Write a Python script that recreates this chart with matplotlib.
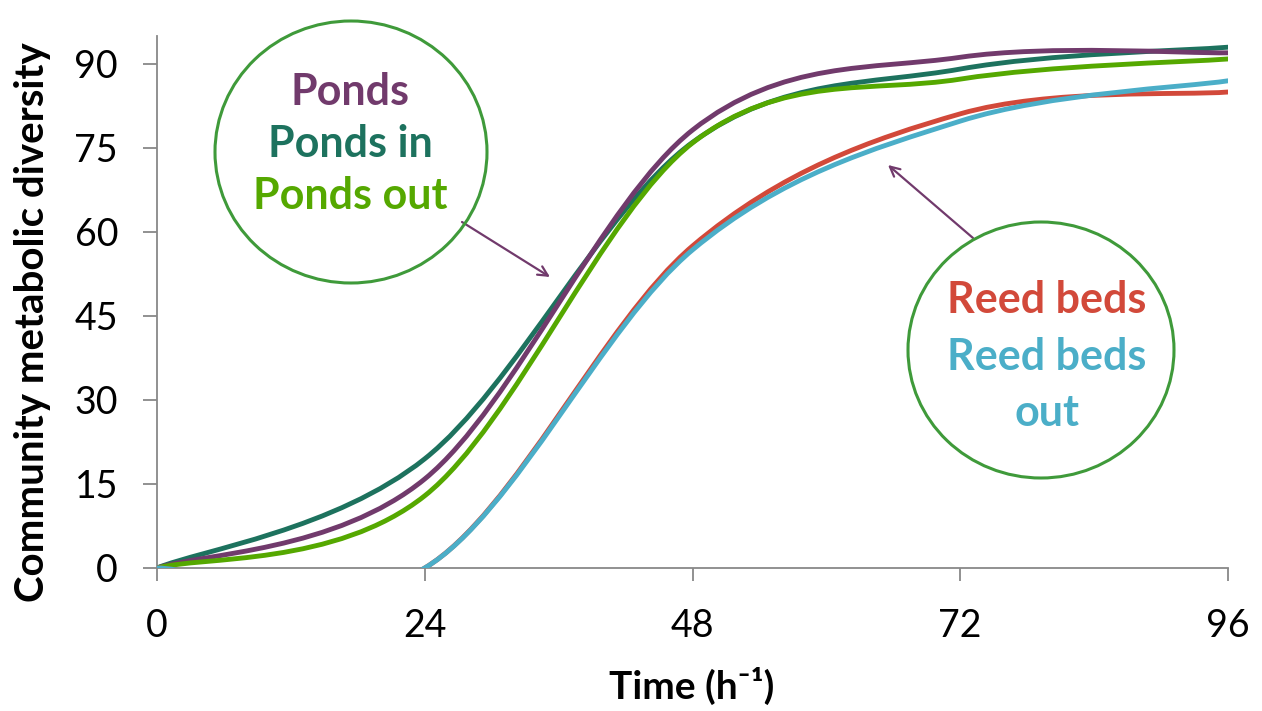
import numpy as np
import matplotlib
matplotlib.use("Agg")
import matplotlib.pyplot as plt
from matplotlib.path import Path
from matplotlib.patches import PathPatch, Ellipse

plt.rcParams['font.family'] = ['Lato', 'DejaVu Sans']

hours = [0, 24, 48, 72, 96]
ponds_in = [0, 19.5, 76.0, 89.1, 93.0]
ponds = [0, 15.9, 78.2, 91.2, 92.0]
ponds_out = [0, 12.9, 75.9, 87.3, 90.9]
reed_beds = [0, 0, 57.5, 81.1, 85.0]
reed_beds_out = [0, 0, 56.8, 79.8, 87.0]

series = [
    (ponds_in, "#1D725E"),
    (ponds, "#713A6C"),
    (ponds_out, "#55A800"),
    (reed_beds, "#D2493A"),
    (reed_beds_out, "#4BAEC8"),
]

W, H = 1262, 711


def smooth_path(x, y):
    # Excel-style smoothed line: cubic bezier segments through the points
    p = np.column_stack([x, y]).astype(float)
    n = len(p)
    verts = [p[0]]
    codes = [Path.MOVETO]
    for i in range(n - 1):
        p0 = p[i - 1] if i > 0 else p[i]
        p1 = p[i]
        p2 = p[i + 1]
        p3 = p[i + 2] if i + 2 < n else p[i + 1]
        verts += [p1 + (p2 - p0) / 6, p2 - (p3 - p1) / 6, p2]
        codes += [Path.CURVE4] * 3
    return Path(verts, codes)


def fig_xy(px, py):
    return (px / W, 1 - py / H)


fig = plt.figure(figsize=(W / 100, H / 100), dpi=100)
ax = fig.add_axes([157 / W, 143 / H, (1228 - 157) / W, (568 - 36) / H])

for vals, col in series:
    ax.add_patch(PathPatch(smooth_path(hours, vals), facecolor="none",
                           edgecolor=col, lw=3.5, capstyle="round",
                           joinstyle="round", zorder=3))

ax.set_xlim(0, 96)
ax.set_ylim(0, 95)
ax.set_xticks([0, 24, 48, 72, 96])
ax.set_yticks([0, 15, 30, 45, 60, 75, 90])
for s in ["top", "right"]:
    ax.spines[s].set_visible(False)
for s in ["left", "bottom"]:
    ax.spines[s].set_color("#888888")
    ax.spines[s].set_linewidth(1.3)
ax.tick_params(axis="both", colors="#888888", labelcolor="black",
               labelsize=27, width=1.3)
ax.tick_params(axis="y", length=10, pad=18)
ax.tick_params(axis="x", length=9, pad=20)

fig.text(33 / W, 1 - 322 / H, "Community metabolic diversity", rotation=90,
         ha="center", va="center", fontsize=29, fontweight="bold")
fig.text(692 / W, 1 - 686 / H, "Time (h\u207b\u00b9)", ha="center",
         va="center", fontsize=28, fontweight="bold")

# bubbles
for cx, cy, rx, ry in [(351, 152, 136, 131), (1041, 350, 133, 128)]:
    fig.patches.append(Ellipse(fig_xy(cx, cy), 2 * rx / W, 2 * ry / H,
                               transform=fig.transFigure, facecolor="none",
                               edgecolor="#3F9A3A", lw=2.2))

for txt, py, col in [("Ponds", 92, "#713A6C"), ("Ponds in", 144, "#1D725E"),
                     ("Ponds out", 196, "#55A800")]:
    fig.text(*fig_xy(350, py), txt, ha="center", va="center", fontsize=31,
             fontweight="bold", color=col)
for txt, py, col in [("Reed beds", 300, "#D2493A"), ("Reed beds", 357, "#4BAEC8"),
                     ("out", 413, "#4BAEC8")]:
    fig.text(*fig_xy(1047, py), txt, ha="center", va="center", fontsize=31,
             fontweight="bold", color=col)

for tail, head in [((462, 222), (550, 277)), ((973, 238), (888, 165))]:
    ax.annotate("", xy=fig_xy(*head), xycoords="figure fraction",
                xytext=fig_xy(*tail), textcoords="figure fraction",
                arrowprops=dict(arrowstyle="->,head_length=0.7,head_width=0.35",
                                color="#713A6C", lw=1.6, shrinkA=0, shrinkB=0))

fig.savefig("out.png", dpi=100)
